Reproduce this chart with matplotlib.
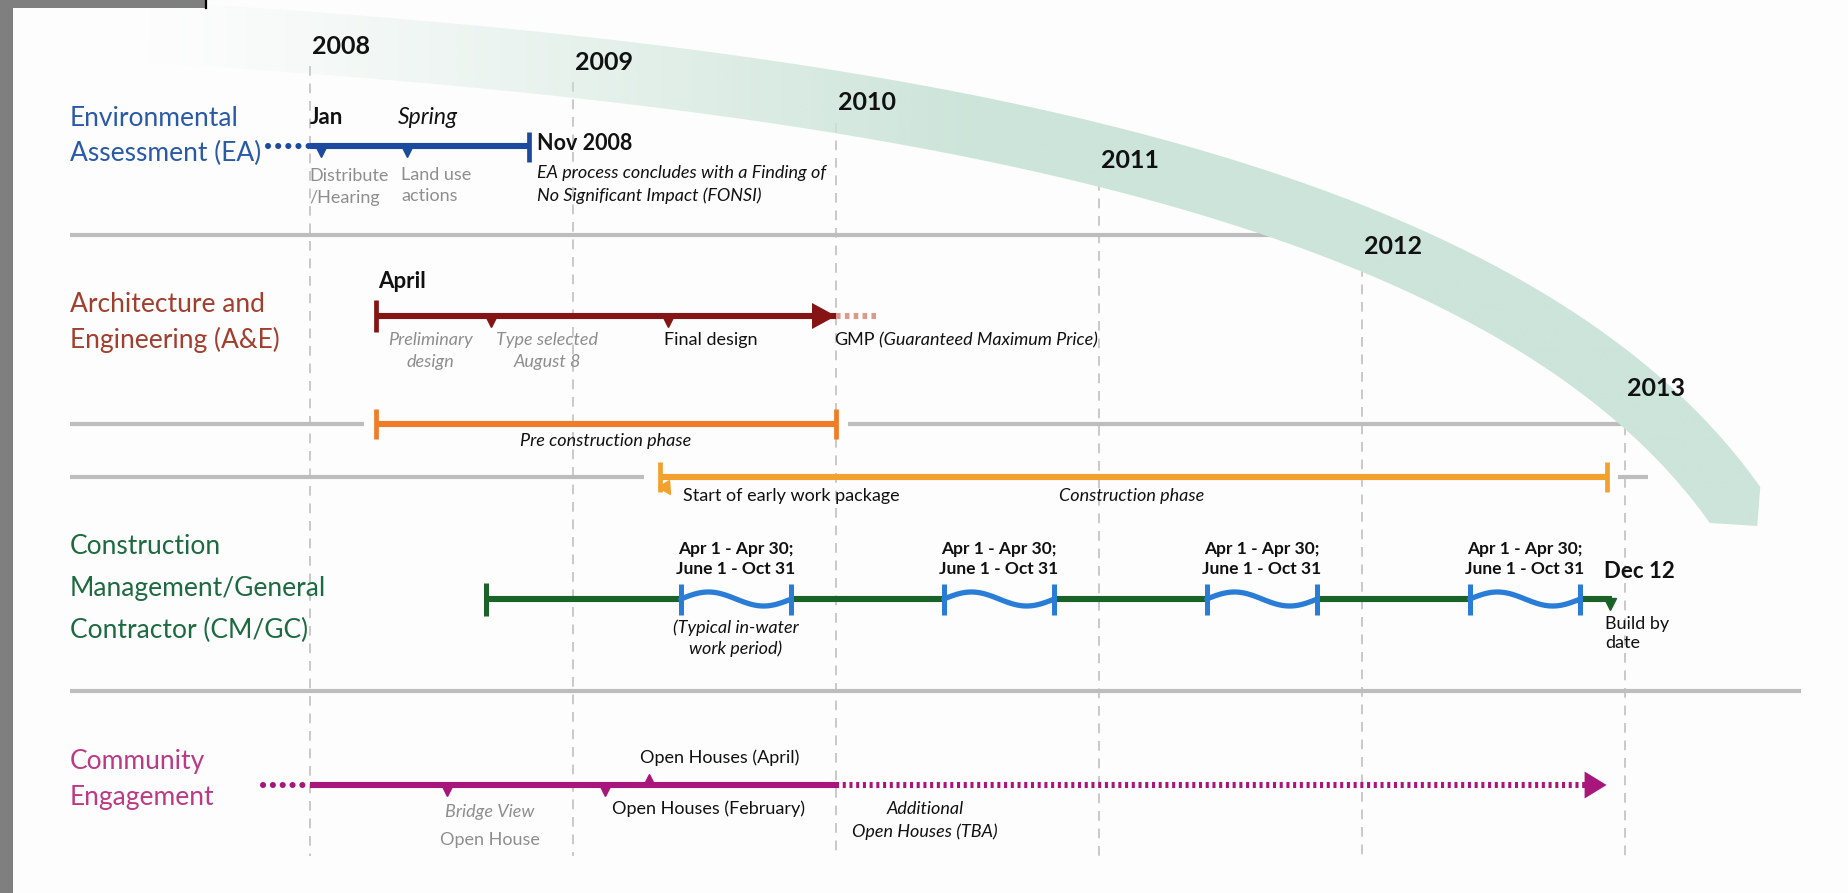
import numpy as np
import matplotlib
matplotlib.use("Agg")
import matplotlib.pyplot as plt
from matplotlib.patches import Polygon, Rectangle
from matplotlib.bezier import BezierSegment
from matplotlib.markers import MarkerStyle
from matplotlib.transforms import Affine2D

plt.rcParams['font.family'] = ['Lato', 'DejaVu Sans']

# ---------------------------------------------------------------- data
years = [2008, 2009, 2010, 2011, 2012, 2013]

row_labels = ["Environmental\nAssessment (EA)",
              "Architecture and\nEngineering (A&E)",
              "Construction\nManagement/General\nContractor (CM/GC)",
              "Community\nEngagement"]

# Environmental Assessment (decimal years)
ea_lead = [2007.84, 2008.0]
ea_span = [2008.0, 2008.834]
ea_marks = [2008.04, 2008.37]
ea_mark_tops = ["Jan", "Spring"]
ea_mark_notes = ["Distribute\n/Hearing", "Land use\nactions"]
ea_end_label = "Nov 2008"
ea_end_note = "EA process concludes with a Finding of\nNo Significant Impact (FONSI)"

# Architecture and Engineering
ae_span = [2008.25, 2010.0]
ae_gmp = [2010.0, 2010.165]
ae_marks = [2008.69, 2009.36]
ae_start_label = "April"
ae_notes = ["Preliminary\ndesign", "Type selected\nAugust 8", "Final design"]
ae_gmp_label = ["GMP", "(Guaranteed Maximum Price)"]

# Phases
pre_span = [2008.25, 2010.0]
pre_label = "Pre construction phase"
con_span = [2009.33, 2012.93]
con_labels = ["Start of early work package", "Construction phase"]

# Construction Management / General Contractor
cm_span = [2008.67, 2012.95]
inwater_start = [2009.41, 2010.41, 2011.41, 2012.41]
inwater_end = [2009.83, 2010.83, 2011.83, 2012.83]
inwater_label = "Apr 1 - Apr 30;\nJune 1 - Oct 31"
inwater_note = "(Typical in-water\nwork period)"
cm_end_label = "Dec 12"
cm_end_note = "Build by\ndate"

# Community Engagement
ce_lead = [2007.82, 2008.0]
ce_solid = [2008.0, 2010.0]
ce_future = [2010.0, 2012.93]
ce_marks_below = [2008.52, 2009.12]
ce_mark_above = [2009.29]
ce_notes = ["Bridge View", "Open House", "Open Houses (February)",
            "Open Houses (April)", "Additional\nOpen Houses (TBA)"]

# ---------------------------------------------------------------- layout
W, H, DPI = 1849, 893, 100
X2008, PPY = 310.0, 263.0          # pixel of 2008 gridline, pixels per year


def X(px):
    return 2008 + (np.asarray(px, float) - X2008) / PPY


def D(px):
    return px / PPY


year_label_y = [46, 62, 103, 161, 247, 388]
Y_EA, Y_AE, Y_PRE, Y_CON, Y_CM, Y_CE = 146, 316, 424, 477, 599, 785
LW = 4.4

C_EA_TXT, C_EA = '#2a5aa6', '#1b4a9e'
C_AE_TXT, C_AE, C_GMP = '#a03f2e', '#851515', '#dc9a8e'
C_PRE, C_CON = '#ef7c26', '#f2a12c'
C_CM_TXT, C_CM, C_WAVE = '#1d6a40', '#1b6229', '#2a7dd6'
C_CE_TXT, C_CE = '#bb3a85', '#a8167b'
C_GREY = '#8e8e8e'
C_SEP, C_GRID = '#bdbdbd', '#c9c9c9'
BAND_RGB = (0.80, 0.898, 0.851)
BG = '#fdfdfd'

fig = plt.figure(figsize=(W / DPI, H / DPI), dpi=DPI)
fig.patch.set_facecolor(BG)
ax = fig.add_axes([0, 0, 1, 1])
ax.set_facecolor(BG)
ax.axis('off')


def mtext(x, y0, step, s, **kw):
    for i, line in enumerate(s.split('\n')):
        ax.text(x, y0 + i * step, line, va='center', **kw)


def vtick(x, y, h, color, lw=LW, z=4):
    ax.plot([x, x], [y - h / 2, y + h / 2], color=color, lw=lw,
            solid_capstyle='butt', zorder=z)


def head(tip, y, color, length=24, height=26, z=4):
    ax.add_patch(Polygon([[tip, y], [tip - D(length), y - height / 2],
                          [tip - D(length), y + height / 2]],
                         closed=True, facecolor=color, edgecolor='none',
                         zorder=z))


# ---------------------------------------------------------------- frame
ax.add_patch(Rectangle((X(0), 0), D(13), H, facecolor='#7f7f7f',
                       edgecolor='none', zorder=10))
ax.add_patch(Rectangle((X(0), 0), D(205), 8, facecolor='#7f7f7f',
                       edgecolor='none', zorder=10))
ax.plot([X(206), X(206)], [0, 8], color='black', lw=1.6, zorder=10)

# ---------------------------------------------------------------- arc band
ctrl = np.array([[150, 32], [850, 74], [1500, 172], [1735, 505]], float)
bez = BezierSegment(ctrl)
tt = np.linspace(0, 1, 400)
cen = bez(tt)
tan = np.gradient(cen, axis=0)
tan /= np.linalg.norm(tan, axis=1)[:, None]
nrm = np.column_stack([-tan[:, 1], tan[:, 0]])
half = 31
upper = cen - half * nrm
lower = cen + half * nrm
chamfer = np.array([upper[-1][0] - 3, lower[-1][1] + 3])
poly_px = np.vstack([upper, [chamfer], lower[::-1]])
band = Polygon(np.column_stack([X(poly_px[:, 0]), poly_px[:, 1]]),
               closed=True, facecolor='none', edgecolor='none',
               transform=ax.transData)
ax.add_patch(band)
xs = np.linspace(100, 1790, 700)
img = np.zeros((1, len(xs), 4))
img[..., :3] = BAND_RGB
img[0, :, 3] = np.clip((xs - 140) / (980 - 140), 0, 1) ** 1.2
im = ax.imshow(img, extent=[X(100), X(1790), 570, 0], aspect='auto',
               interpolation='bilinear', zorder=1.5)
im.set_clip_path(band)

ax.set_xlim(X(0), X(W))
ax.set_ylim(H, 0)

# ---------------------------------------------------------------- grid & years
for yr, ly in zip(years, year_label_y):
    ax.plot([yr, yr], [ly + 20, 856], color=C_GRID, lw=1.4,
            dashes=(5, 4), zorder=1)
    ax.text(yr + D(2), ly, str(yr), fontsize=18, fontweight='bold',
            va='center', ha='left', color='#111111', zorder=6)

# ---------------------------------------------------------------- separators
sep_kw = dict(color=C_SEP, lw=3, solid_capstyle='butt', zorder=1.2)
ax.plot([X(70), X(1340)], [235, 235], **sep_kw)
ax.plot([X(70), pre_span[0] - D(12)], [Y_PRE, Y_PRE], **sep_kw)
ax.plot([pre_span[1] + D(12), X(1660)], [Y_PRE, Y_PRE], **sep_kw)
ax.plot([X(70), con_span[0] - D(16)], [Y_CON, Y_CON], **sep_kw)
ax.plot([con_span[1] + D(11), X(1648)], [Y_CON, Y_CON], **sep_kw)
ax.plot([X(70), X(1801)], [691, 691], **sep_kw)

# ---------------------------------------------------------------- row labels
row_cfg = [(118, 35, C_EA_TXT), (305, 35, C_AE_TXT),
           (547, 41.5, C_CM_TXT), (762, 36, C_CE_TXT)]
for lab, (y0, st, col) in zip(row_labels, row_cfg):
    mtext(X(70), y0, st, lab, ha='left', fontsize=19, color=col, zorder=6)

SMALL = 13

# ---------------------------------------------------------------- EA row
ax.plot(ea_lead, [Y_EA] * 2, color=C_EA, lw=LW, dashes=(0.01, 1.65),
        dash_capstyle='round', zorder=3)
ax.plot(ea_span, [Y_EA] * 2, color=C_EA, lw=LW, solid_capstyle='butt', zorder=3)
vtick(ea_span[1], Y_EA + 1, 30, C_EA, lw=3.4)
ax.plot(ea_marks, [Y_EA + 6] * len(ea_marks), 'v', color=C_EA, ms=7, zorder=3)
ax.text(ea_marks[0] - D(11), 118, ea_mark_tops[0], fontsize=16,
        fontweight='bold', ha='left', va='center', color='#111111')
ax.text(ea_marks[1] - D(9), 118, ea_mark_tops[1], fontsize=16.5,
        style='italic', ha='left', va='center', color='#111111')
mtext(ea_marks[0] - D(11), 176, 22, ea_mark_notes[0], ha='left',
      fontsize=SMALL, color=C_GREY)
mtext(ea_marks[1] - D(6), 175, 21, ea_mark_notes[1], ha='left',
      fontsize=SMALL, color=C_GREY)
ax.text(ea_span[1] + D(8), 143, ea_end_label, fontsize=15.5,
        fontweight='bold', ha='left', va='center', color='#111111')
mtext(ea_span[1] + D(8), 173, 23, ea_end_note, ha='left', fontsize=SMALL,
      style='italic', color='#111111')

# ---------------------------------------------------------------- A&E row
ax.plot(ae_span, [Y_AE] * 2, color=C_AE, lw=LW, solid_capstyle='butt', zorder=3)
head(ae_span[1], Y_AE, C_AE, length=24, height=26)
ax.plot(ae_gmp, [Y_AE] * 2, color=C_GMP, lw=LW, dashes=(0.75, 0.7),
        zorder=3)
vtick(ae_span[0], Y_AE, 32, C_AE, lw=3.4)
ax.plot(ae_marks, [Y_AE + 6] * len(ae_marks), 'v', color=C_AE, ms=7, zorder=3)
ax.text(ae_span[0] + D(2), 282, ae_start_label, fontsize=16,
        fontweight='bold', ha='left', va='center', color='#111111')
mtext(X(430), 340, 22, ae_notes[0], ha='center', fontsize=SMALL,
      style='italic', color=C_GREY)
mtext(ae_marks[0] + D(56), 340, 22, ae_notes[1], ha='center',
      fontsize=SMALL, style='italic', color=C_GREY)
ax.text(ae_marks[1] - D(4), 340, ae_notes[2], fontsize=SMALL, ha='left',
        va='center', color='#111111')
t_gmp = ax.text(ae_span[1] - D(2), 340, ae_gmp_label[0], fontsize=SMALL,
                ha='left', va='center', color='#111111')
ax.annotate(ae_gmp_label[1], xy=(1, 0), xycoords=t_gmp, xytext=(3.5, 0),
            textcoords='offset points', ha='left', va='bottom',
            fontsize=SMALL, style='italic', color='#111111')

# ---------------------------------------------------------------- phases
ax.plot(pre_span, [Y_PRE] * 2, color=C_PRE, lw=LW, solid_capstyle='butt',
        zorder=3)
for xv in pre_span:
    vtick(xv, Y_PRE, 30, C_PRE, lw=3.4)
ax.text(np.mean(pre_span), 441, pre_label, fontsize=SMALL, style='italic',
        ha='center', va='center', color='#111111')

ax.plot(con_span, [Y_CON] * 2, color=C_CON, lw=LW, solid_capstyle='butt',
        zorder=3)
vtick(con_span[0], Y_CON, 30, C_CON, lw=3.4)
vtick(con_span[1], Y_CON, 30, C_CON, lw=3.4)
ax.plot([con_span[0] + D(7)], [Y_CON + 12], marker=MarkerStyle(
    'v', transform=Affine2D().rotate_deg(30)), color=C_CON, ms=9, zorder=3)
ax.text(con_span[0] + D(23), 496, con_labels[0], fontsize=SMALL, ha='left',
        va='center', color='#111111')
ax.text(X(1132), 496, con_labels[1], fontsize=SMALL, style='italic',
        ha='center', va='center', color='#111111')

# ---------------------------------------------------------------- CM/GC row
bounds = [cm_span[0]] + [v for pair in zip(inwater_start, inwater_end)
                         for v in pair] + [cm_span[1]]
for a, b in zip(bounds[0::2], bounds[1::2]):
    ax.plot([a, b], [Y_CM] * 2, color=C_CM, lw=LW, solid_capstyle='butt',
            zorder=3)
vtick(cm_span[0], Y_CM, 33, C_CM, lw=3.6)
ax.plot([cm_span[1] - D(2)], [Y_CM + 5], 'v', color=C_CM, ms=8, zorder=3)
for s, e in zip(inwater_start, inwater_end):
    u = np.linspace(0, 1, 120)
    ax.plot(s + (e - s) * u, Y_CM - 7 * np.sin(2 * np.pi * u), color=C_WAVE,
            lw=3.8, solid_capstyle='round', zorder=4)
    vtick(s, Y_CM, 31, C_WAVE, lw=3.6, z=5)
    vtick(e, Y_CM, 31, C_WAVE, lw=3.6, z=5)
    mtext((s + e) / 2, 549, 20, inwater_label, ha='center', fontsize=12.5,
          fontweight='bold', color='#111111')
mtext((inwater_start[0] + inwater_end[0]) / 2, 628, 21, inwater_note,
      ha='center', fontsize=SMALL, style='italic', color='#111111')
ax.text(cm_span[1] - D(8), 571, cm_end_label, fontsize=16,
        fontweight='bold', ha='left', va='center', color='#111111')
mtext(cm_span[1] - D(7), 624, 19, cm_end_note, ha='left', fontsize=SMALL,
      color='#111111')

# ---------------------------------------------------------------- Community row
ax.plot(ce_lead, [Y_CE] * 2, color=C_CE, lw=LW, dashes=(0.01, 1.6),
        dash_capstyle='round', zorder=3)
ax.plot(ce_solid, [Y_CE] * 2, color=C_CE, lw=LW, solid_capstyle='butt',
        zorder=3)
ax.plot([ce_future[0], ce_future[1] - D(20)], [Y_CE] * 2, color=C_CE,
        lw=LW, dashes=(0.5, 0.6), zorder=3)
head(ce_future[1], Y_CE, C_CE, length=22, height=27)
ax.plot(ce_marks_below, [Y_CE + 6] * len(ce_marks_below), 'v', color=C_CE,
        ms=7, zorder=3)
ax.plot(ce_mark_above, [Y_CE - 6] * len(ce_mark_above), '^', color=C_CE,
        ms=7, zorder=3)
ax.text(ce_marks_below[0] + D(43), 812, ce_notes[0], fontsize=SMALL,
        style='italic', ha='center', va='center', color=C_GREY)
ax.text(ce_marks_below[0] + D(43), 840, ce_notes[1], fontsize=SMALL,
        ha='center', va='center', color=C_GREY)
ax.text(ce_marks_below[1] + D(7), 809, ce_notes[2], fontsize=SMALL,
        ha='left', va='center', color='#111111')
ax.text(ce_mark_above[0] - D(9), 758, ce_notes[3], fontsize=SMALL,
        ha='left', va='center', color='#111111')
mtext(X(925), 809, 23, ce_notes[4], ha='center', fontsize=SMALL,
      style='italic', color='#111111')

fig.savefig('out.png', dpi=DPI, facecolor=BG)
